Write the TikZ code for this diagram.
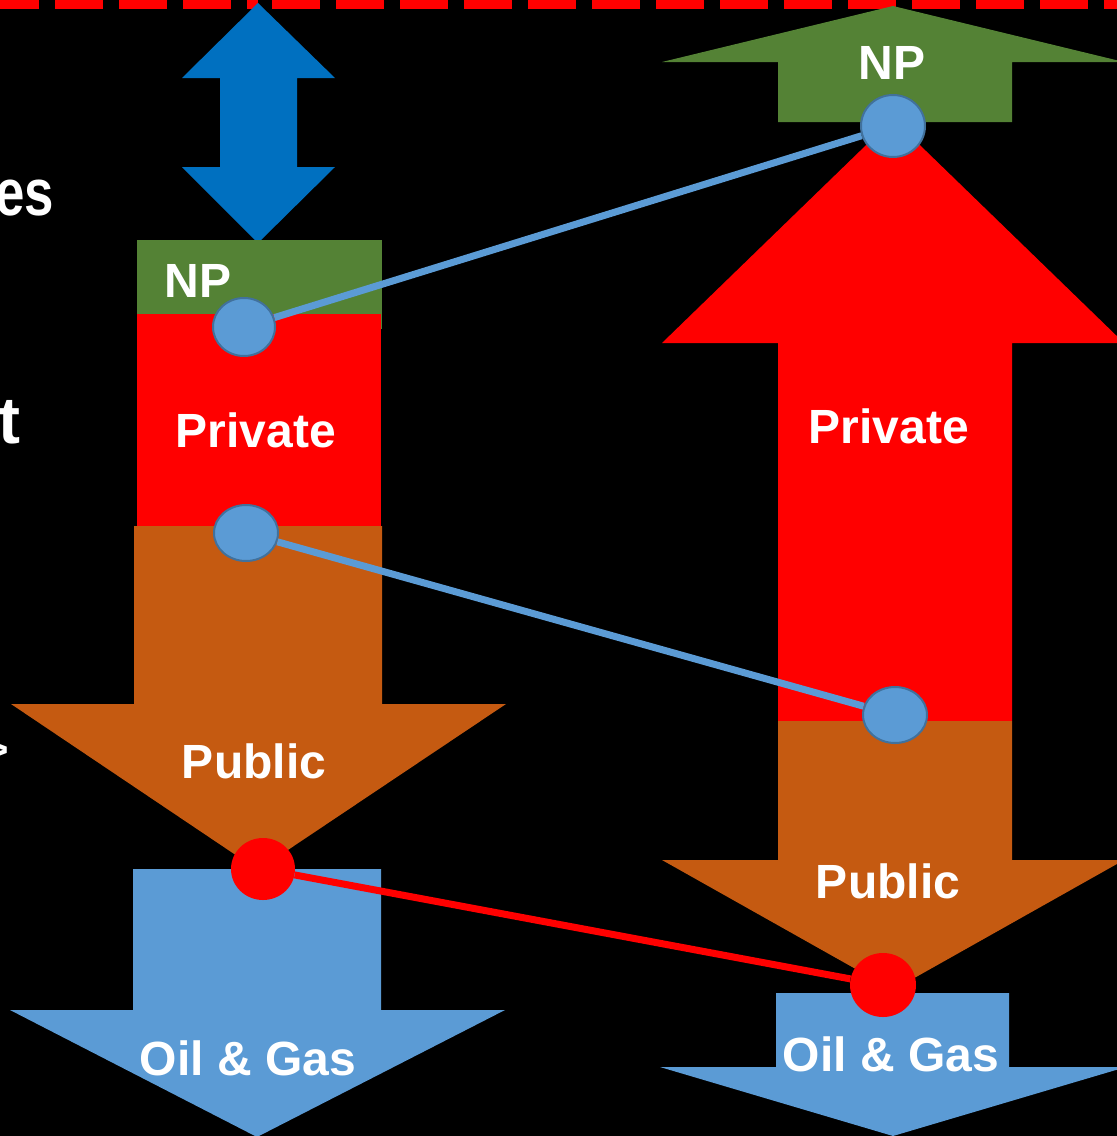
\documentclass[tikz,border=0pt]{standalone}
\usepackage{fontspec}
\setmainfont{Liberation Sans}
\usetikzlibrary{shapes.geometric}
\definecolor{npgreen}{HTML}{548235}
\definecolor{pubor}{HTML}{C55A11}
\definecolor{oilblue}{HTML}{5B9BD5}
\definecolor{arrblue}{HTML}{0070C0}
\definecolor{ringblue}{HTML}{41719C}
\tikzset{
  lbl/.style={font=\fontsize{48}{57}\selectfont\bfseries, text=white, anchor=base, inner sep=0pt},
  sidetext/.style={font=\fontsize{66}{79}\selectfont\bfseries, text=white, inner sep=0pt},
  dotblue/.style={ellipse, fill=oilblue, draw=ringblue, line width=2pt, inner sep=0pt},
  dotred/.style={ellipse, fill=red, inner sep=0pt},
  linkblue/.style={draw=oilblue, line width=7pt},
  linkred/.style={draw=red, line width=7pt},
  redash/.style={draw=red, line width=9pt, dash pattern=on 48pt off 16pt}
}
\begin{document}
\begin{tikzpicture}[x=1pt,y=-1pt]
\useasboundingbox (0,0) rectangle (1117,1136);
\clip (0,0) rectangle (1117,1136);
\fill[black] (0,0) rectangle (1117,1136);

% dashed top line
\draw[redash] (-9,4) -- (258,4);
\draw[redash] (272,4) -- (1140,4);

% side text, cut off at the left edge as in the reference
\node[sidetext, anchor=base east] (es) at (54,215) {\scalebox{0.8}[1]{es}};
\node[sidetext, anchor=base east] (t) at (21,443) {t};
\node[font=\fontsize{40}{48}\selectfont\bfseries, text=white, inner sep=0pt, anchor=east] (gt) at (9,751) {>};

% blue double arrow
\fill[arrblue] (258,3) -- (335,78) -- (297,78) -- (297,167) -- (335,167) -- (258,243)
  -- (182,167) -- (220,167) -- (220,78) -- (182,78) -- cycle;

% left column
\fill[npgreen] (137,240) rectangle (382,329);
\fill[red] (137,314) rectangle (381,526);
\fill[pubor] (134,526) -- (382,526) -- (382,704) -- (506,704) -- (258,870) -- (11,704) -- (134,704) -- cycle;
\fill[oilblue] (133,869) -- (381,869) -- (381,1010) -- (505,1010) -- (257,1137) -- (10,1010) -- (133,1010) -- cycle;

% right column
\fill[npgreen] (893,6) -- (1124,62) -- (1012,62) -- (1012,122) -- (778,122) -- (778,62) -- (662,62) -- cycle;
\fill[red] (893,119) -- (1124,343) -- (1012,343) -- (1012,721) -- (778,721) -- (778,343) -- (662,343) -- cycle;
\fill[pubor] (778,721) -- (1012,721) -- (1012,860) -- (1124,860) -- (893,990) -- (662,860) -- (778,860) -- cycle;
\fill[oilblue] (776,993) -- (1009,993) -- (1009,1067) -- (1126,1067) -- (893,1136) -- (660,1067) -- (776,1067) -- cycle;

% labels
\node[lbl] (npL) at (198,297) {NP};
\node[lbl] (privL) at (256,447) {Private};
\node[lbl] (pubL) at (254,778) {Public};
\node[lbl] (oilL) at (248,1075) {Oil \& Gas};
\node[lbl] (npR) at (892,79) {NP};
\node[lbl] (privR) at (889,443) {Private};
\node[lbl] (pubR) at (888,898) {Public};
\node[lbl] (oilR) at (891,1071) {Oil \& Gas};

% dots
\node[dotblue, minimum width=62pt, minimum height=58pt] (c1) at (244,327) {};
\node[dotblue, minimum width=64pt, minimum height=56pt] (c2) at (246,533) {};
\node[dotblue, minimum width=64pt, minimum height=62pt] (c3) at (893,126) {};
\node[dotblue, minimum width=64pt, minimum height=56pt] (c4) at (895,715) {};
\node[dotred, minimum width=64pt, minimum height=62pt] (r1) at (263,869) {};
\node[dotred, minimum width=66pt, minimum height=64pt] (r2) at (883,985) {};

% links
\draw[linkblue] (c1) -- (c3);
\draw[linkblue] (c2) -- (c4);
\draw[linkred] (r1) -- (r2);
\end{tikzpicture}
\end{document}
